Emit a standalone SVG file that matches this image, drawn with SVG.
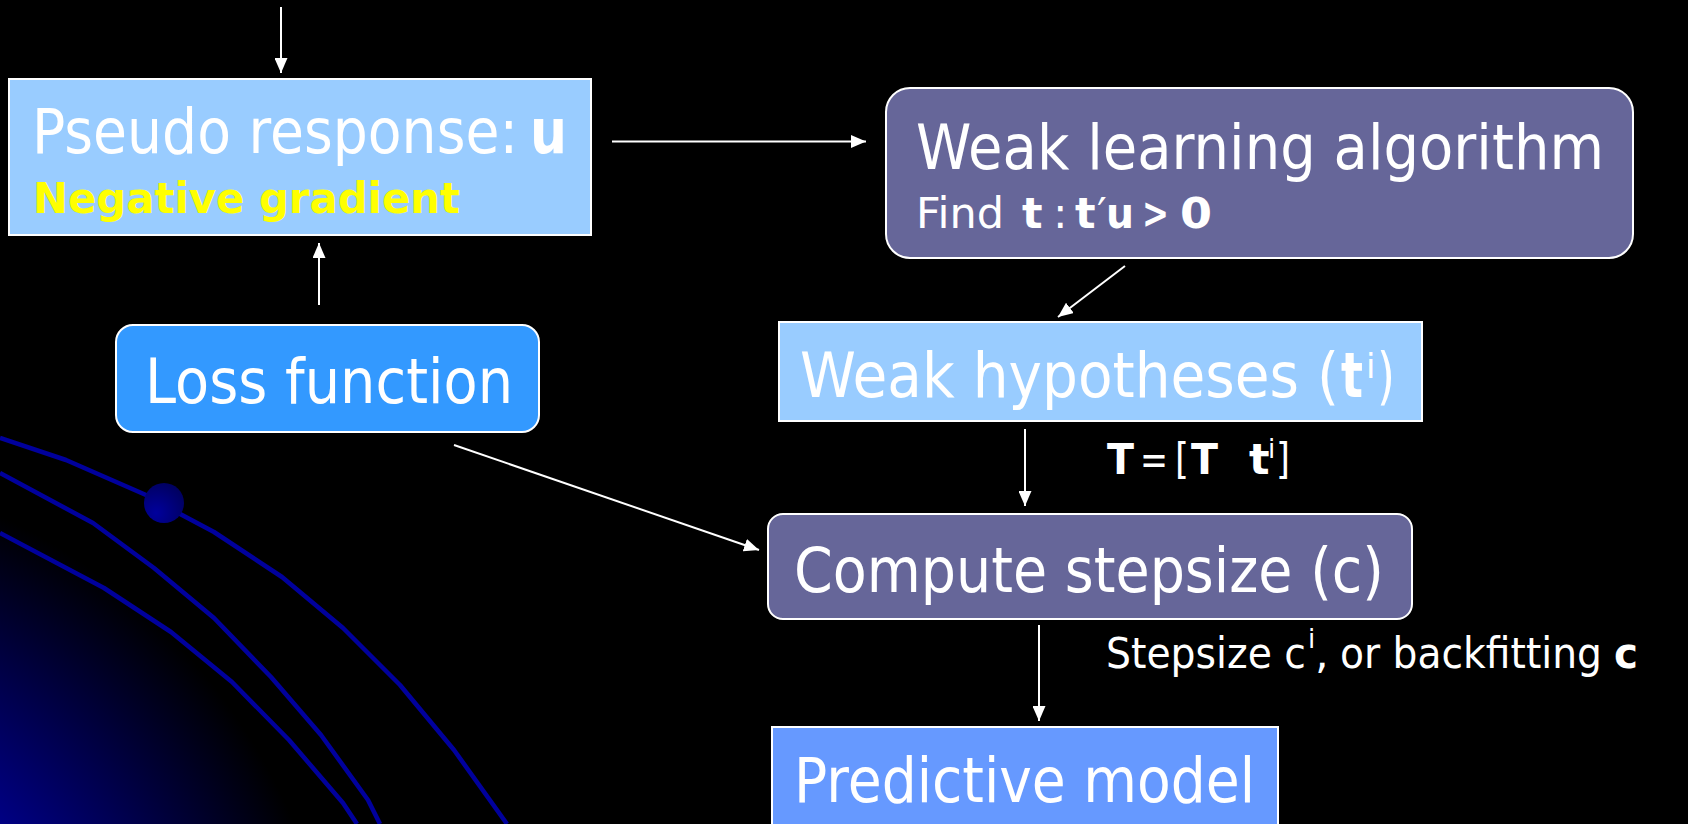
<svg xmlns="http://www.w3.org/2000/svg" width="1688" height="824" viewBox="0 0 1688 824">
  <defs>
    <radialGradient id="globe" cx="-250" cy="1050" r="590" gradientUnits="userSpaceOnUse">
      <stop offset="0" stop-color="#0000aa"/>
      <stop offset="0.55" stop-color="#00008a"/>
      <stop offset="1" stop-color="#000000"/>
    </radialGradient>
    <radialGradient id="bead" cx="0.3" cy="0.75" r="0.8">
      <stop offset="0" stop-color="#00009c"/>
      <stop offset="1" stop-color="#000060"/>
    </radialGradient>
    <marker id="ah" markerUnits="userSpaceOnUse" markerWidth="15" markerHeight="13" refX="15" refY="6.5" orient="auto">
      <path d="M0,0 L15,6.5 L0,13 z" fill="#ffffff"/>
    </marker>
  </defs>
  <style>
    .box { stroke: #ffffff; stroke-width: 2; }
    .light { fill: #99ccff; }
    .slate { fill: #666699; }
    .azure { fill: #3399ff; }
    .cobalt { fill: #6699ff; }
    .t { font-family: "DejaVu Sans", "Liberation Sans", sans-serif; fill: #ffffff; }
    .big { font-size: 62px; }
    .small { font-size: 43px; }
    .b { font-weight: bold; }
    .arc { fill: none; stroke: #00009c; stroke-width: 4.5; stroke-linejoin: round; }
    .conn line { stroke: #ffffff; stroke-width: 2; marker-end: url(#ah); }
  </style>

  <!-- backdrop -->
  <rect x="0" y="0" width="1688" height="824" fill="#000000"/>
  <circle cx="-250" cy="1050" r="590" fill="url(#globe)"/>
  <g id="orbits">
    <polyline class="arc" points="0,438 66,460 146,495 182,515 214,532 282,577 343,628 400,685 454,750 507,824"/>
    <polyline class="arc" points="0,473 93,523 154,568 214,618 271,677 321,735 368,800 380,824"/>
    <polyline class="arc" points="0,533 104,588 171,632 232,682 289,740 343,803 357,824"/>
    <circle cx="164" cy="503" r="20" fill="url(#bead)"/>
  </g>

  <!-- connectors -->
  <g id="connectors" class="conn">
    <line x1="281" y1="7" x2="281" y2="73"/>
    <line x1="319" y1="305" x2="319" y2="243"/>
    <line x1="612" y1="141.5" x2="866" y2="141.5"/>
    <line x1="1125" y1="266" x2="1058" y2="317"/>
    <line x1="1025" y1="429" x2="1025" y2="506"/>
    <line x1="454" y1="445" x2="759" y2="550"/>
    <line x1="1039" y1="625" x2="1039" y2="721"/>
  </g>

  <g id="pseudo-response">
    <rect class="box light" x="9" y="79" width="582" height="156"/>
    <text class="t big" y="153"><tspan x="32" textLength="486" lengthAdjust="spacingAndGlyphs">Pseudo response:</tspan><tspan class="b" x="530" textLength="37" lengthAdjust="spacingAndGlyphs">u</tspan></text>
    <text class="t small b" x="33" y="213" textLength="427" lengthAdjust="spacingAndGlyphs" style="fill:#ffff00">Negative gradient</text>
  </g>

  <g id="loss-function">
    <rect class="box azure" x="116" y="325" width="423" height="107" rx="17"/>
    <text class="t big" x="145" y="403" textLength="368" lengthAdjust="spacingAndGlyphs">Loss function</text>
  </g>

  <g id="weak-learner">
    <rect class="box slate" x="886" y="88" width="747" height="170" rx="24"/>
    <text class="t big" x="916" y="169" textLength="688" lengthAdjust="spacingAndGlyphs">Weak learning algorithm</text>
    <text class="t small" y="228"><tspan x="916" textLength="88" lengthAdjust="spacingAndGlyphs">Find</tspan><tspan class="b" x="1022">t</tspan><tspan x="1053">:</tspan><tspan class="b" x="1075">t</tspan><tspan x="1097">′</tspan><tspan class="b" x="1106" textLength="28" lengthAdjust="spacingAndGlyphs">u</tspan><tspan class="b" x="1142" textLength="27" lengthAdjust="spacingAndGlyphs">&gt;</tspan><tspan class="b" x="1180" textLength="32" lengthAdjust="spacingAndGlyphs">0</tspan></text>
  </g>

  <g id="weak-hypotheses">
    <rect class="box light" x="779" y="322" width="643" height="99"/>
    <text class="t big" y="397"><tspan x="800" textLength="539" lengthAdjust="spacingAndGlyphs">Weak hypotheses (</tspan><tspan class="b" x="1341" textLength="22" lengthAdjust="spacingAndGlyphs">t</tspan><tspan x="1366" y="378" style="font-size:34px">i</tspan><tspan x="1377" y="397" textLength="18" lengthAdjust="spacingAndGlyphs">)</tspan></text>
  </g>

  <g id="update-label">
    <text class="t small" y="474"><tspan class="b" x="1107" textLength="27" lengthAdjust="spacingAndGlyphs">T</tspan><tspan x="1140" textLength="28" lengthAdjust="spacingAndGlyphs">=</tspan><tspan x="1175" textLength="14" lengthAdjust="spacingAndGlyphs">[</tspan><tspan class="b" x="1191" textLength="27" lengthAdjust="spacingAndGlyphs">T</tspan><tspan class="b" x="1249" textLength="19">t</tspan><tspan x="1268" y="458" style="font-size:26px">i</tspan><tspan x="1276" y="474" textLength="14" lengthAdjust="spacingAndGlyphs">]</tspan></text>
  </g>

  <g id="compute-stepsize">
    <rect class="box slate" x="768" y="514" width="644" height="105" rx="15"/>
    <text class="t big" x="794" y="592" textLength="590" lengthAdjust="spacingAndGlyphs">Compute stepsize (c)</text>
  </g>

  <g id="stepsize-label">
    <text class="t small" y="668"><tspan x="1106" textLength="200" lengthAdjust="spacingAndGlyphs">Stepsize c</tspan><tspan x="1308" y="648" style="font-size:26px">i</tspan><tspan x="1315" y="668">,</tspan><tspan x="1340" textLength="262" lengthAdjust="spacingAndGlyphs">or backfitting</tspan><tspan class="b" x="1614" textLength="24" lengthAdjust="spacingAndGlyphs">c</tspan></text>
  </g>

  <g id="predictive-model">
    <rect class="box cobalt" x="772" y="727" width="506" height="110"/>
    <text class="t big" x="794" y="802" textLength="461" lengthAdjust="spacingAndGlyphs">Predictive model</text>
  </g>
</svg>
